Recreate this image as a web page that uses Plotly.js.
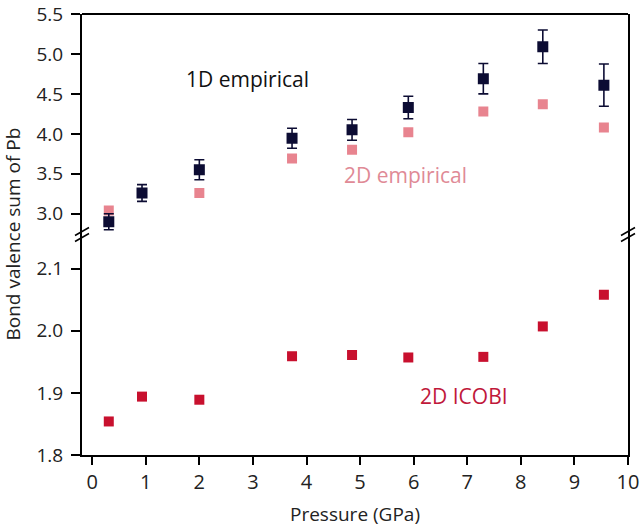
<!DOCTYPE html>
<html>
<head>
<meta charset="utf-8">
<script src="https://cdn.plot.ly/plotly-3.0.1.min.js"></script>
<style>
  body { margin: 0; background: #fff; }
  #chart { width: 640px; height: 530px; }
</style>
</head>
<body>
<div id="chart"></div>
<script>
// pressure points (GPa)
var pressure = [0.31, 0.93, 2.0, 3.73, 4.85, 5.90, 7.30, 8.41, 9.55];

// 1D empirical BVS with error bars
var emp1D = [2.90, 3.26, 3.55, 3.945, 4.05, 4.33, 4.69, 5.09, 4.61];
var emp1DErr = [0.10, 0.105, 0.125, 0.125, 0.13, 0.14, 0.19, 0.21, 0.265];

// 2D empirical BVS
var emp2D = [3.04, 3.26, 3.26, 3.69, 3.80, 4.02, 4.28, 4.37, 4.08];

// 2D ICOBI
var icobi2D = [1.854, 1.894, 1.889, 1.959, 1.961, 1.957, 1.958, 2.007, 2.058];

// tick labels
var xTicks = [0, 1, 2, 3, 4, 5, 6, 7, 8, 9, 10];
var yLowTicks = [1.8, 1.9, 2.0, 2.1];
var yHighTicks = [3.0, 3.5, 4.0, 4.5, 5.0, 5.5];

var navy = '#0c0c33';
var pink = '#e8848f';
var red = '#c8102e';
var fnt = 'Open Sans, Segoe UI, sans-serif';

var data = [
  {
    x: pressure, y: emp2D, xaxis: 'x', yaxis: 'y2',
    type: 'scatter', mode: 'markers', name: '2D empirical',
    marker: { symbol: 'square', size: 10, color: pink }
  },
  {
    x: pressure, y: emp1D, xaxis: 'x', yaxis: 'y2',
    type: 'scatter', mode: 'markers', name: '1D empirical',
    marker: { symbol: 'square', size: 11, color: navy },
    error_y: { type: 'data', array: emp1DErr, visible: true, color: navy, thickness: 1.6, width: 5 }
  },
  {
    x: pressure, y: icobi2D, xaxis: 'x', yaxis: 'y',
    type: 'scatter', mode: 'markers', name: '2D ICOBI',
    marker: { symbol: 'square', size: 10, color: red }
  }
];

function brk(cx, cy, dy) {
  return {
    type: 'line', xref: 'paper', yref: 'paper',
    xsizemode: 'pixel', ysizemode: 'pixel',
    xanchor: cx, yanchor: cy,
    x0: -7, x1: 7, y0: dy - 4, y1: dy + 4,
    line: { color: '#000', width: 1.6 }
  };
}

var axStyle = {
  showgrid: false, zeroline: false,
  showline: true, linecolor: '#000', linewidth: 2,
  ticks: 'outside', ticklen: 9, tickwidth: 1.6, tickcolor: '#000',
  ticklabeloverflow: 'allow',
  tickfont: { size: 19, color: '#222' }
};

var layout = {
  width: 640, height: 530,
  margin: { l: 82, r: 12, t: 14, b: 75 },
  paper_bgcolor: '#fff', plot_bgcolor: '#fff',
  showlegend: false,
  font: { family: fnt, size: 19, color: '#222' },
  xaxis: Object.assign({}, axStyle, {
    range: [-0.19, 10], tickvals: xTicks,
    ticklen: 8,
    anchor: 'y',
    tickfont: { size: 20, color: '#222' },
    title: { text: 'Pressure (GPa)', font: { size: 19 }, standoff: 14 }
  }),
  yaxis: Object.assign({}, axStyle, {
    domain: [0, 0.5], range: [1.8, 2.155],
    tickvals: yLowTicks, ticktext: yLowTicks.map(function (v) { return v.toFixed(1); }),
    ticklabelstandoff: 4,
    mirror: true
  }),
  yaxis2: Object.assign({}, axStyle, {
    domain: [0.5, 1], range: [2.74, 5.5005],
    tickvals: yHighTicks, ticktext: yHighTicks.map(function (v) { return v.toFixed(1); }),
    ticklabelstandoff: 4,
    mirror: true,
    anchor: 'x'
  }),
  shapes: [
    { type: 'line', xref: 'paper', yref: 'paper', x0: 0, x1: 1, y0: 1, y1: 1,
      line: { color: '#000', width: 2 } },
    brk(0, 0.5, 3), brk(0, 0.5, -3),
    brk(1, 0.5, 3), brk(1, 0.5, -3)
  ],
  annotations: [
    { text: '1D empirical', x: 2.89, y: 4.69, xref: 'x', yref: 'y2',
      showarrow: false, font: { size: 21, color: '#111' } },
    { text: '2D empirical', x: 5.84, y: 3.49, xref: 'x', yref: 'y2',
      showarrow: false, font: { size: 21, color: '#e08a96' } },
    { text: '2D ICOBI', x: 6.93, y: 1.895, xref: 'x', yref: 'y',
      showarrow: false, font: { size: 21, color: '#c0183a' } },
    { text: 'Bond valence sum of Pb', xref: 'paper', yref: 'paper',
      x: 0, y: 0.5, xshift: -70, xanchor: 'center', yanchor: 'middle',
      textangle: -90, showarrow: false,
      font: { size: 19, color: '#222' } }
  ]
};

Plotly.newPlot('chart', data, layout, { displayModeBar: false });
</script>
</body>
</html>
